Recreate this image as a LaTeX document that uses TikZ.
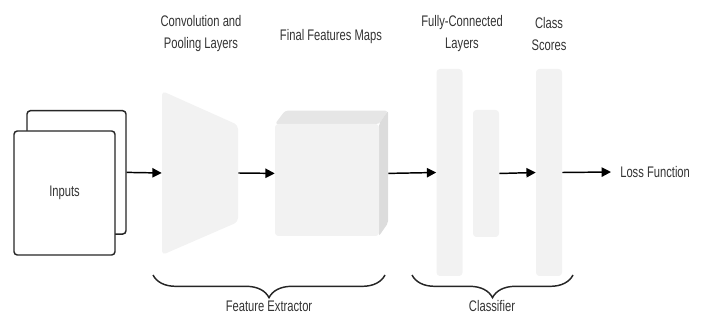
\documentclass[tikz,border=0pt]{standalone}
\usepackage{fontspec}
\setmainfont{Liberation Sans}[FakeStretch=0.73]
\usetikzlibrary{arrows.meta,decorations.pathreplacing}
\definecolor{layergray}{HTML}{F2F2F2}
\definecolor{topgray}{HTML}{E6E6E6}
\definecolor{sidegray}{HTML}{DCDCDC}
\definecolor{txt}{HTML}{333333}
\tikzset{
  inbox/.style={draw=black!85, line width=1.1pt, fill=white, rounded corners=2.5pt, inner sep=0pt},
  layer/.style={fill=layergray, rounded corners=2.5pt, inner sep=0pt, minimum width=19.5pt},
  ghost/.style={inner sep=0pt},
  conn/.style={line width=1.1pt, -{Triangle[length=7pt,width=7pt]}},
  lbl/.style={text=txt, font=\fontsize{11.5}{16.5}\selectfont, align=center},
  brc/.style={decorate, decoration={brace, amplitude=17pt}, line width=1.1pt, draw=black!85}
}
\begin{document}
\begin{tikzpicture}[x=0.75pt,y=-0.75pt]
\useasboundingbox (0,0) rectangle (702,323);
% inputs
\node[inbox, minimum width=74.25pt, minimum height=92.5pt] (inb) at (76.5,172.4) {};
\node[inbox, minimum width=75.75pt, minimum height=93pt, lbl] (inf) at (64.5,193) {Inputs};
% convolution trapezoid
\fill[layergray, rounded corners=3pt] (162,91) -- (238,125) -- (238,222) -- (162,255) -- cycle;
\node[ghost, minimum width=57pt, minimum height=123pt] (conv) at (200,173) {};
% cube
\node[ghost, minimum width=84.75pt, minimum height=94pt] (cube) at (331.5,173.4) {};
\fill[topgray, rounded corners=2pt] (285,110.7) -- (388,110.7) -- (379,124) -- (275,124) -- cycle;
\fill[sidegray, rounded corners=1.5pt] (379,124) -- (388,110.7) -- (388,223) -- (379,236) -- cycle;
\fill[layergray, rounded corners=2.5pt] (275,124) rectangle (379,236);
% FC layers
\node[layer, minimum height=155.25pt] (fc1) at (449.5,172.5) {};
\node[layer, minimum height=95.25pt] (fc2) at (486,173.5) {};
\node[layer, minimum height=155.25pt] (cs) at (549,172.5) {};
\node[lbl, anchor=west, inner ysep=0pt, inner xsep=6.75pt] (loss) at (611,172) {Loss Function};
% connectors
\draw[conn] (inb.east) -- (conv.west);
\draw[conn] (conv.east) -- (cube.west);
\draw[conn] (cube.east) -- (fc1.west);
\draw[conn] (fc2.east) -- (cs.west);
\draw[conn] (cs.east) -- (loss.west);
% top labels
\node[lbl] (tconv) at (201,34) {Convolution and\\Pooling Layers};
\node[lbl] (tmaps) at (331,37) {Final Features Maps};
\node[lbl] (tfc) at (462,34) {Fully-Connected\\Layers};
\node[lbl] (tcs) at (549,34) {Class\\Scores};
% braces
\coordinate (fe1) at (153,275);
\coordinate (fe2) at (385,275);
\coordinate (cl1) at (412,275);
\coordinate (cl2) at (573,275);
\draw[brc] (fe2) -- (fe1);
\draw[brc] (cl2) -- (cl1);
\node[lbl] (tfe) at (269,306) {Feature Extractor};
\node[lbl] (tcl) at (492,306) {Classifier};
\end{tikzpicture}
\end{document}
